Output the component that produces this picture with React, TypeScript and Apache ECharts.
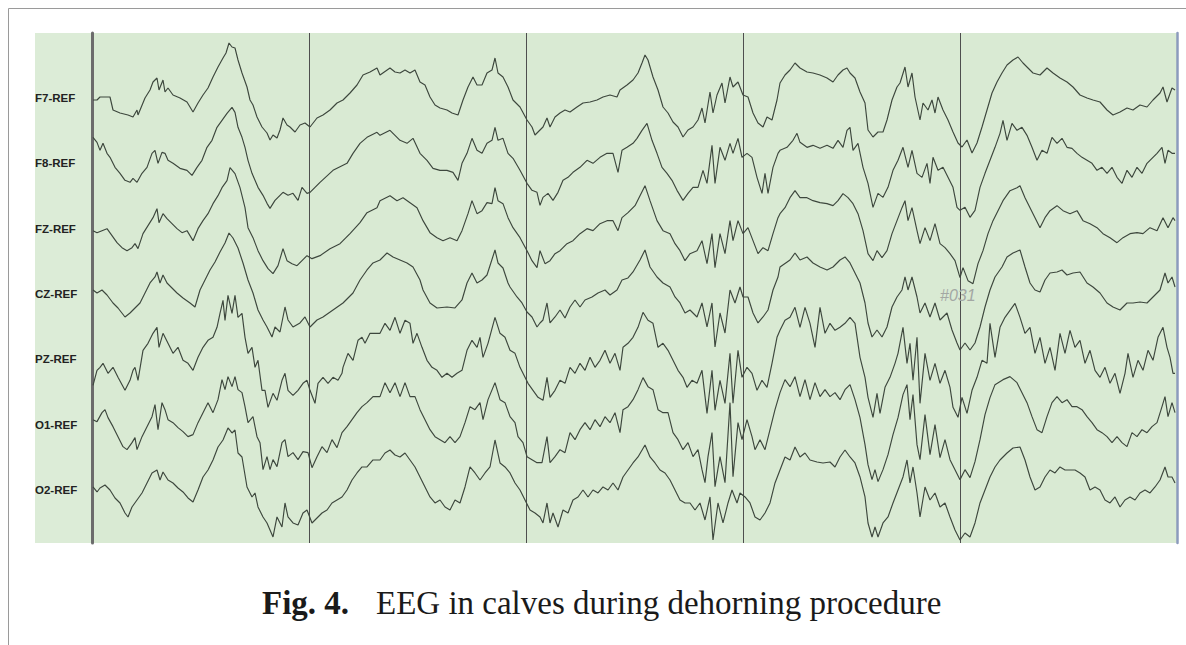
import { useEffect, useRef } from "react";
import * as echarts from "echarts";

// Channel names (top to bottom)
const CHANNELS = ["F7-REF", "F8-REF", "FZ-REF", "CZ-REF", "PZ-REF", "O1-REF", "O2-REF"];

// Each trace: [sample index (≈217 samples per second), amplitude relative to the channel baseline]
const F7 = [[1,-2],[5,-2],[8,1],[13,1],[18,1],[21,-12],[28,-15],[36,-17],[41,-19],[45,-12],[46,-17],[53,0],[58,8],[61,16],[65,20],[67,8],[71,18],[73,6],[76,10],[81,3],[88,0],[95,-4],[101,-14],[106,-5],[111,3],[116,10],[121,21],[126,31],[131,40],[134,45],[137,55],[140,51],[143,50],[146,38],[150,25],[155,11],[158,-2],[161,-7],[165,-19],[170,-29],[175,-35],[178,-42],[181,-37],[185,-40],[188,-32],[191,-20],[195,-27],[198,-29],[203,-34],[208,-27],[213,-25],[218,-29],[225,-20],[231,-17],[238,-12],[245,-5],[251,-2],[258,5],[265,13],[271,23],[278,26],[285,30],
[288,23],[298,30],[303,26],[308,25],[313,28],[318,25],[323,28],[328,16],[333,13],[338,1],[343,-7],[348,-10],[355,-12],[360,-15],[366,-17],[371,-2],[376,11],[381,21],[385,13],[390,13],[395,25],[400,28],[403,40],[406,25],[411,21],[416,11],[421,-2],[428,-9],[435,-22],[440,-29],[443,-37],[448,-32],[451,-29],[455,-20],[458,-29],[463,-19],[468,-15],[473,-12],[478,-14],[485,-9],[491,-5],[498,-4],[505,-2],[511,1],[518,3],[525,1],[528,8],[535,13],[541,18],[546,25],[550,35],[553,43],[556,38],[561,21],[566,8],[571,-9],[576,-15],[581,-24],[586,-29],[591,-39],[596,-32],[601,-29],[606,-22],[610,-10],[613,-25],[618,6],[621,-15],[625,3],[630,15],[633,-5],[638,21],[641,11],[646,16],[651,3],[656,1],[661,-15],[666,-25],[671,-29],[675,-19],[680,-22],[685,-2],
[688,15],[693,23],[698,28],[703,35],[708,30],[715,26],[721,25],[728,23],[735,20],[741,16],[746,23],[751,28],[755,30],[758,25],[763,20],[768,6],[773,-5],[776,-32],[781,-39],[786,-34],[791,-34],[795,-22],[800,-2],[805,11],[808,15],[813,31],[816,11],[820,25],[823,1],[828,-22],[831,-5],[836,-12],[840,-2],[843,-15],[846,1],[851,-12],[856,-22],[861,-34],[866,-45],[870,-49],[875,-42],[880,-55],[885,-45],[890,-29],[895,-12],[900,5],[905,16],[910,25],[915,33],[921,38],[926,41],[931,35],[936,30],[941,25],[948,23],[955,30],[961,25],[968,20],[975,16],[981,11],[988,3],[995,0],[1001,-2],[1008,-4],[1015,-12],[1021,-17],[1028,-14],[1035,-10],[1041,-12],[1048,-7],[1055,-9],[1061,-2],[1068,5],[1071,11],[1075,-4],[1080,10],[1083,8]];

const F8 = [[1,26],[5,21],[8,13],[11,20],[15,10],[18,6],[23,-4],[28,-10],[33,-17],[38,-19],[41,-15],[45,-19],[50,-10],[55,-4],[60,10],[63,13],[66,0],[70,11],[73,10],[76,3],[81,0],[88,-5],[95,-7],[100,-12],[105,-4],[110,3],[115,16],[120,23],[125,36],[130,43],[135,50],[140,56],[143,51],[146,36],[150,26],[153,16],[156,3],[160,-10],[163,-17],[166,-24],[171,-32],[175,-40],[178,-45],[183,-37],[186,-34],[191,-29],[196,-32],[201,-30],[206,-37],[210,-24],[215,-30],[218,-29],[228,-19],[241,-7],[255,0],[261,10],[268,20],[275,26],[285,31],
[288,28],[298,33],[308,23],[315,20],[321,25],[328,10],[335,3],[341,-5],[348,-7],[355,-7],[361,-9],[366,-17],[370,0],[375,10],[380,25],[385,13],[390,10],[395,20],[400,23],[403,36],[406,23],[411,25],[416,10],[421,5],[428,-7],[435,-20],[440,-27],[445,-29],[448,-42],[451,-34],[456,-30],[461,-37],[466,-29],[471,-17],[476,-14],[481,-9],[488,-4],[495,3],[501,0],[508,6],[515,10],[521,10],[526,-9],[530,13],[535,16],[541,20],[545,25],[550,33],[555,40],[560,23],[565,10],[570,-4],[575,-10],[580,-17],[585,-27],[591,-37],[596,-30],[601,-24],[606,-24],[611,-7],[615,-20],[620,18],[623,-20],[628,16],[633,3],[638,20],[641,10],[646,25],[650,6],[655,10],[660,6],[665,-14],[670,-30],[673,-10],[676,-30],[681,-4],[686,10],
[688,13],[695,16],[701,23],[705,30],[708,21],[715,16],[721,18],[728,15],[735,18],[741,15],[746,23],[751,16],[755,33],[758,36],[761,13],[766,20],[771,-4],[776,-20],[781,-44],[786,-30],[791,-34],[796,-24],[801,-7],[806,3],[811,16],[816,-4],[820,13],[825,-10],[830,-14],[835,0],[838,-20],[841,6],[846,-7],[851,-4],[856,-14],[861,-24],[865,-44],[868,-47],[873,-44],[878,-54],[883,-47],[888,-24],[893,-10],[898,3],[903,16],[908,30],[911,43],[915,23],[920,40],[925,33],[930,36],[935,28],[940,16],[945,3],[950,13],[955,10],[960,26],[965,20],[970,25],[975,16],[980,15],[985,10],[990,6],[995,3],[1000,0],[1005,-7],[1010,-4],[1015,-10],[1020,-4],[1025,-14],[1030,-20],[1035,-7],[1040,-14],[1045,-4],[1050,-10],[1055,0],[1060,5],[1065,10],[1070,16],[1073,0],[1076,13],[1080,10],[1083,10]];

const FZ = [[1,-2],[5,-4],[10,-2],[15,0],[20,-7],[25,-14],[30,-19],[35,-22],[40,-19],[43,-15],[46,-20],[51,-5],[56,3],[61,11],[65,20],[67,6],[71,15],[75,10],[80,5],[85,0],[90,-4],[95,-2],[101,-12],[106,0],[111,8],[116,15],[121,25],[126,33],[130,41],[135,48],[138,61],[143,55],[148,41],[153,21],[156,1],[161,-9],[166,-22],[171,-32],[176,-40],[181,-45],[186,-37],[191,-20],[195,-32],[200,-35],[205,-37],[210,-32],[215,-27],[220,-30],[228,-27],[238,-20],[248,-15],[258,-5],[268,6],[275,16],[285,21],
[288,28],[298,33],[305,28],[311,31],[318,26],[325,21],[331,8],[338,-4],[345,-9],[351,-12],[358,-9],[365,-12],[370,-2],[376,15],[380,28],[385,15],[390,18],[395,26],[400,25],[403,41],[406,28],[411,25],[416,11],[421,1],[428,-9],[435,-22],[440,-32],[445,-39],[448,-22],[453,-35],[458,-32],[463,-25],[468,-22],[475,-15],[481,-12],[488,-5],[495,0],[501,-2],[508,5],[515,8],[521,8],[526,-2],[530,11],[536,16],[543,23],[548,33],[553,43],[558,28],[565,8],[571,-2],[578,-5],[583,-15],[588,-22],[593,-32],[598,-25],[605,-22],[610,-12],[615,-35],[620,-5],[623,-39],[628,-5],[633,-25],[638,8],[641,-12],[646,8],[651,-5],[656,1],[661,-12],[666,-25],[671,-19],[676,-22],[681,-5],[686,11],
[688,15],[693,21],[698,31],[703,38],[708,31],[715,31],[721,28],[728,26],[735,25],[741,23],[746,28],[751,35],[756,31],[761,25],[766,15],[771,-2],[776,-25],[781,-32],[785,-22],[790,-29],[795,-22],[800,-5],[805,8],[810,21],[813,28],[816,8],[820,21],[825,-2],[828,-15],[833,1],[838,-12],[843,5],[848,-15],[853,-19],[858,-25],[863,-32],[868,-49],[871,-39],[876,-52],[881,-55],[886,-35],[891,-22],[896,-5],[901,8],[906,18],[911,28],[918,38],[925,41],[928,43],[933,31],[938,21],[943,11],[948,1],[953,11],[958,18],[965,23],[971,18],[978,15],[985,18],[991,8],[998,5],[1005,1],[1011,-5],[1018,-9],[1025,-14],[1031,-9],[1038,-5],[1045,-4],[1051,-5],[1058,1],[1065,-2],[1071,11],[1076,1],[1081,11],[1083,8]];

const CZ = [[1,4],[5,1],[10,4],[15,-1],[21,-9],[26,-14],[33,-23],[38,-19],[43,-14],[48,-9],[53,1],[58,11],[63,17],[65,22],[68,11],[71,19],[75,11],[80,6],[85,1],[91,-4],[98,-9],[103,-13],[108,4],[113,14],[118,24],[123,32],[128,42],[133,51],[137,61],[141,56],[146,46],[151,31],[156,14],[161,1],[166,-16],[171,-26],[175,-33],[180,-43],[183,-33],[188,-38],[193,-13],[196,-26],[201,-33],[208,-29],[213,-23],[218,-33],[225,-26],[231,-23],[241,-16],[251,-9],[261,1],[268,14],[275,24],[281,31],
[288,34],[295,41],[301,37],[308,34],[315,31],[321,27],[328,14],[331,4],[338,-9],[345,-14],[355,-13],[363,-14],[370,-6],[375,11],[380,21],[385,11],[390,14],[395,19],[403,44],[406,31],[411,26],[416,11],[418,7],[425,-3],[430,-9],[435,-18],[440,-23],[445,-33],[448,-29],[451,-26],[455,-9],[458,-29],[463,-23],[468,-16],[473,-24],[478,-13],[483,-6],[488,-13],[493,-6],[500,-3],[506,1],[513,4],[518,-1],[525,4],[530,14],[536,16],[541,22],[548,34],[553,44],[558,27],[565,17],[571,11],[578,7],[583,-3],[588,-9],[593,-19],[598,-16],[605,-23],[610,-9],[615,-33],[620,-9],[623,-53],[628,-19],[633,-39],[638,4],[643,-9],[648,7],[651,-3],[656,-3],[661,-19],[666,-29],[671,-23],[676,-16],[681,4],[686,17],
[688,27],[698,34],[703,41],[708,34],[715,37],[721,31],[728,27],[735,24],[741,27],[748,34],[753,37],[758,31],[763,21],[768,11],[773,-9],[776,-29],[780,-43],[785,-36],[790,-43],[795,-33],[800,-13],[805,-3],[810,4],[813,17],[816,4],[820,17],[825,-3],[828,-19],[833,-9],[838,-23],[843,-9],[848,-26],[855,-19],[860,-36],[865,-49],[868,-56],[873,-49],[878,-56],[883,-49],[888,-33],[893,-13],[898,4],[903,17],[910,27],[915,37],[921,41],[928,44],[933,27],[938,11],[943,4],[948,2],[953,14],[958,21],[965,22],[970,24],[975,19],[981,21],[988,22],[995,11],[1001,7],[1008,1],[1015,-9],[1021,-13],[1028,-16],[1035,-9],[1041,-9],[1048,-8],[1055,-9],[1061,-3],[1068,4],[1073,21],[1076,11],[1080,17],[1083,7]];

const PZ = [[1,-26],[5,-11],[8,-8],[11,-4],[16,-14],[21,-8],[26,-18],[33,-31],[38,-21],[41,-11],[43,-8],[46,-21],[51,9],[56,16],[61,26],[65,32],[67,12],[71,26],[76,16],[81,6],[86,12],[91,-1],[96,-4],[101,-11],[106,2],[111,12],[116,19],[121,22],[125,32],[128,46],[131,59],[133,39],[136,64],[140,46],[143,64],[146,42],[150,46],[153,22],[156,6],[160,12],[163,-8],[166,-1],[170,-31],[173,-31],[176,-48],[181,-34],[185,-41],[190,-21],[193,-14],[196,-31],[201,-36],[206,-31],[211,-24],[215,-21],[218,-31],[223,-44],[226,-24],[231,-18],[236,-24],[241,-18],[246,-21],[250,-14],[251,-8],[256,6],[261,-1],[266,19],[270,22],[273,16],[278,26],[283,26],
[288,26],[293,36],[298,29],[303,42],[308,26],[313,39],[318,36],[321,16],[325,26],[330,12],[335,-1],[340,-8],[345,-11],[350,-18],[355,-14],[360,-18],[365,-14],[370,-11],[375,9],[380,19],[385,12],[388,22],[391,2],[396,16],[403,42],[408,26],[413,22],[418,9],[423,6],[428,-8],[433,-18],[436,-24],[441,-31],[446,-38],[451,-41],[455,-18],[458,-38],[463,-31],[468,-21],[473,-24],[478,-8],[483,-14],[488,-4],[493,-11],[498,2],[503,-8],[508,-1],[513,9],[518,-4],[523,6],[528,-11],[531,12],[536,16],[541,22],[546,32],[551,47],[556,39],[561,36],[566,12],[571,16],[576,9],[581,-1],[586,-11],[591,-18],[595,-28],[600,-21],[605,-24],[610,-11],[615,-54],[620,-11],[623,-51],[628,-21],[633,-44],[638,6],[641,-44],[646,9],[650,-18],[655,-8],[660,-14],[665,-31],[670,-21],[675,-28],[680,-4],[685,22],
[688,29],[693,39],[698,42],[703,52],[708,32],[713,52],[718,36],[723,12],[728,52],[733,26],[738,36],[743,29],[748,32],[753,36],[758,42],[763,36],[768,2],[773,-18],[776,-38],[781,-58],[785,-34],[788,-54],[793,-28],[798,-18],[803,-4],[806,6],[811,32],[815,-4],[818,16],[821,-21],[825,22],[828,-44],[833,6],[838,-21],[843,-4],[848,-24],[853,-11],[858,-28],[861,-48],[866,-58],[870,-38],[875,-54],[880,-31],[885,-18],[890,-1],[895,-4],[898,36],[903,2],[908,32],[913,42],[918,49],[923,56],[928,42],[933,26],[938,32],[943,6],[948,22],[953,-4],[958,12],[963,-11],[968,26],[973,6],[978,29],[983,12],[988,19],[993,-4],[998,9],[1003,-11],[1008,-18],[1013,-8],[1018,-24],[1023,-14],[1028,-34],[1033,-14],[1036,6],[1041,-18],[1046,-1],[1051,-11],[1056,9],[1061,-1],[1066,22],[1071,32],[1075,12],[1078,2],[1081,-14],[1083,-14]];

const O1 = [[1,5],[5,3],[10,12],[13,15],[16,7],[21,-2],[26,-12],[31,-22],[35,-25],[40,-18],[43,-13],[45,-25],[50,-12],[55,-2],[60,8],[63,20],[66,-5],[70,22],[73,15],[76,5],[81,2],[86,-3],[91,-7],[96,-12],[101,-10],[106,2],[111,12],[116,22],[121,12],[126,25],[130,45],[133,35],[136,48],[140,38],[143,48],[146,35],[150,32],[153,18],[156,2],[161,8],[165,-12],[168,-18],[171,-45],[175,-32],[178,-45],[181,-35],[185,-42],[190,-18],[193,-15],[196,-32],[201,-28],[206,-35],[211,-27],[216,-28],[220,-43],[225,-32],[230,-22],[235,-28],[240,-15],[245,-23],[250,-8],[255,-2],[260,5],[265,12],[270,18],[275,22],[281,28],
[288,28],[293,42],[298,32],[303,42],[308,28],[313,42],[318,28],[323,28],[328,15],[333,5],[338,-5],[343,-12],[348,-15],[353,-18],[358,-12],[363,-18],[368,-12],[373,2],[378,18],[383,15],[388,22],[391,5],[396,25],[403,42],[408,25],[413,22],[418,8],[423,2],[426,-12],[431,-18],[435,-32],[440,-35],[445,-38],[450,-38],[455,-12],[458,-38],[463,-32],[468,-25],[473,-28],[478,-8],[483,-15],[488,-5],[493,2],[498,-5],[503,5],[508,-2],[513,8],[518,2],[523,12],[528,-8],[531,15],[536,18],[541,25],[546,35],[551,47],[556,38],[561,35],[566,15],[571,12],[576,12],[581,-8],[586,-15],[591,-25],[596,-18],[601,-32],[606,-25],[610,-45],[613,-58],[616,-32],[620,-8],[623,-62],[628,-32],[633,-58],[638,22],[641,-52],[646,2],[650,-15],[655,5],[660,-12],[663,-25],[668,-15],[673,-25],[678,-5],[683,15],
[688,32],[693,45],[698,38],[703,48],[708,28],[713,45],[718,25],[723,42],[728,28],[733,35],[738,28],[743,32],[748,25],[753,35],[758,40],[763,25],[768,7],[773,-20],[776,-40],[780,-55],[783,-45],[786,-57],[791,-45],[796,-30],[801,-10],[806,7],[811,30],[815,40],[818,5],[821,30],[825,-20],[828,-35],[833,10],[838,-30],[843,0],[848,-33],[853,-15],[858,-35],[863,-45],[868,-55],[873,-45],[878,-53],[883,-37],[888,-15],[893,10],[898,27],[903,40],[911,45],[918,48],[925,42],[930,32],[935,22],[940,8],[945,-5],[950,-8],[955,8],[960,22],[965,28],[970,22],[975,25],[980,18],[985,18],[990,15],[995,8],[1000,2],[1005,-5],[1010,-8],[1015,-12],[1020,-18],[1025,-12],[1030,-18],[1035,-22],[1040,-8],[1045,-12],[1050,-5],[1055,-8],[1060,-2],[1065,2],[1070,18],[1073,28],[1076,8],[1080,22],[1083,12]];

const O2 = [[1,3],[5,-2],[8,2],[13,5],[18,0],[23,-8],[28,-13],[33,-23],[36,-27],[40,-17],[45,-10],[50,-3],[55,7],[60,17],[65,20],[68,10],[71,18],[76,10],[81,7],[86,2],[91,-2],[96,-8],[101,-12],[106,0],[111,13],[116,20],[121,30],[126,43],[131,50],[136,62],[140,57],[143,60],[146,37],[150,33],[155,3],[160,-7],[163,-3],[166,-17],[171,-27],[175,-33],[178,-40],[181,-47],[185,-27],[190,-37],[193,-13],[196,-27],[201,-33],[206,-35],[211,-23],[215,-20],[220,-33],[225,-28],[230,-23],[235,-20],[240,-13],[245,-10],[250,-7],[255,0],[260,10],[265,17],[270,23],[275,23],[281,30],
[288,30],[293,37],[298,40],[303,35],[308,33],[313,37],[318,30],[323,23],[328,13],[333,3],[338,-7],[343,-13],[348,-10],[353,-17],[358,-20],[363,-10],[368,-13],[373,3],[378,23],[383,17],[388,10],[393,17],[398,23],[403,50],[408,27],[413,23],[418,17],[423,7],[428,0],[433,-10],[438,-20],[443,-23],[448,-27],[451,-33],[455,-13],[458,-33],[461,-23],[466,-37],[471,-20],[476,-23],[481,-10],[486,-7],[491,0],[496,-7],[501,0],[506,-3],[511,3],[516,0],[521,7],[526,0],[531,13],[536,20],[541,27],[546,33],[553,45],[558,33],[563,27],[568,20],[573,17],[578,10],[583,0],[588,-10],[593,-13],[598,-13],[603,-20],[608,-13],[613,-30],[618,-7],[621,-50],[626,-13],[631,-33],[636,-13],[640,0],[645,-13],[648,-3],[653,-7],[658,-13],[663,-27],[668,-30],[673,-23],[678,-13],[683,7],
[688,20],[693,33],[698,30],[703,43],[708,33],[713,37],[718,30],[725,28],[731,27],[738,28],[743,23],[748,33],[753,40],[758,33],[763,27],[768,13],[773,-7],[776,-33],[780,-47],[783,-37],[786,-47],[791,-33],[796,-27],[801,-13],[806,0],[811,13],[815,30],[818,7],[821,23],[825,-3],[828,-27],[833,3],[838,-10],[843,-3],[848,-17],[853,-13],[858,-27],[863,-40],[868,-50],[873,-43],[878,-47],[883,-33],[888,-13],[893,0],[898,13],[903,23],[908,30],[915,37],[921,42],[928,43],[933,30],[938,13],[943,0],[948,3],[953,13],[958,20],[963,17],[968,23],[973,20],[978,20],[983,20],[988,17],[993,13],[998,0],[1003,3],[1008,0],[1013,-10],[1018,-13],[1023,-7],[1028,-17],[1033,-10],[1038,-7],[1043,-10],[1048,-3],[1053,0],[1058,-3],[1063,3],[1068,10],[1073,23],[1076,13],[1080,13],[1083,7]];

const TRACES = [F7, F8, FZ, CZ, PZ, O1, O2];
const SAMPLES_PER_SECOND = 217;
const SECONDS = 5;
const MARKER_TEXT = "#031";
const CAPTION_BOLD = "Fig. 4.";
const CAPTION_TEXT = "EEG in calves during dehorning procedure";

export default function App() {
  const ref = useRef<HTMLDivElement>(null);

  useEffect(() => {
    if (!ref.current) return;
    const chart = echarts.init(ref.current, null, { renderer: "svg" });

    const gridLeft = 92;
    const gridTop = 33;
    const gridHeight = 510;
    const gridWidth = SAMPLES_PER_SECOND * SECONDS;
    const yMax = gridHeight;
    const firstBaseline = 445; // axis value of F7 baseline
    const spacing = 65.33;

    const series = TRACES.map((pts, i) => ({
      type: "line",
      name: CHANNELS[i],
      showSymbol: false,
      symbol: "none",
      silent: true,
      z: 3,
      data: pts.map(([s, v]) => [s, firstBaseline - spacing * i + v]),
      lineStyle: { color: "#3d473d", width: 1.15 },
    }));

    const labelTexts = CHANNELS.map((name, i) => ({
      type: "text",
      left: 35,
      top: gridTop + (yMax - (firstBaseline - spacing * i)) - 6,
      style: {
        text: name,
        font: 'bold 11.5px "Liberation Sans", Arial, sans-serif',
        fill: "#222222",
      },
      z: 10,
    }));

    chart.setOption({
      animation: false,
      backgroundColor: "#ffffff",
      grid: {
        left: gridLeft,
        top: gridTop,
        width: gridWidth,
        height: gridHeight,
        show: true,
        backgroundColor: "#d9ead3",
        borderWidth: 0,
      },
      xAxis: {
        type: "value",
        min: 0,
        max: gridWidth,
        interval: SAMPLES_PER_SECOND,
        axisLine: { show: false },
        axisTick: { show: false },
        axisLabel: { show: false },
        splitLine: { show: true, lineStyle: { color: "#4e4e4e", width: 1 } },
      },
      yAxis: [
        {
          type: "value",
          min: 0,
          max: yMax,
          position: "left",
          axisLine: { show: true, lineStyle: { color: "#6c6c6c", width: 3 } },
          axisTick: { show: false },
          axisLabel: { show: false },
          splitLine: { show: false },
        },
        {
          type: "value",
          min: 0,
          max: yMax,
          position: "right",
          axisLine: { show: true, lineStyle: { color: "#8c9bbd", width: 2.5 } },
          axisTick: { show: false },
          axisLabel: { show: false },
          splitLine: { show: false },
        },
      ],
      series,
      graphic: [
        {
          type: "line",
          shape: { x1: 8.5, y1: 8.5, x2: 1186, y2: 8.5 },
          style: { stroke: "#9a9a9a", lineWidth: 1 },
        },
        {
          type: "line",
          shape: { x1: 8.5, y1: 8.5, x2: 8.5, y2: 645 },
          style: { stroke: "#9a9a9a", lineWidth: 1 },
        },
        {
          type: "rect",
          shape: { x: 35, y: gridTop, width: gridLeft - 36, height: gridHeight },
          style: { fill: "#dcecd7" },
          z: 1,
        },
        ...labelTexts,
        {
          type: "text",
          left: 940,
          top: 287,
          style: {
            text: MARKER_TEXT,
            font: 'italic 16px "Liberation Sans", Arial, sans-serif',
            fill: "#a3a7a3",
          },
          z: 10,
        },
        {
          type: "text",
          left: 262,
          top: 586,
          style: {
            text: CAPTION_BOLD,
            font: 'bold 33px "Liberation Serif", "Times New Roman", serif',
            fill: "#1a1a1a",
          },
        },
        {
          type: "text",
          left: 376,
          top: 586,
          style: {
            text: CAPTION_TEXT,
            font: '33px "Liberation Serif", "Times New Roman", serif',
            fill: "#1a1a1a",
          },
        },
      ],
    });

    return () => chart.dispose();
  }, []);

  return (
    <div
      ref={ref}
      style={{ position: "absolute", left: 0, top: 0, width: 1186, height: 645 }}
    />
  );
}
